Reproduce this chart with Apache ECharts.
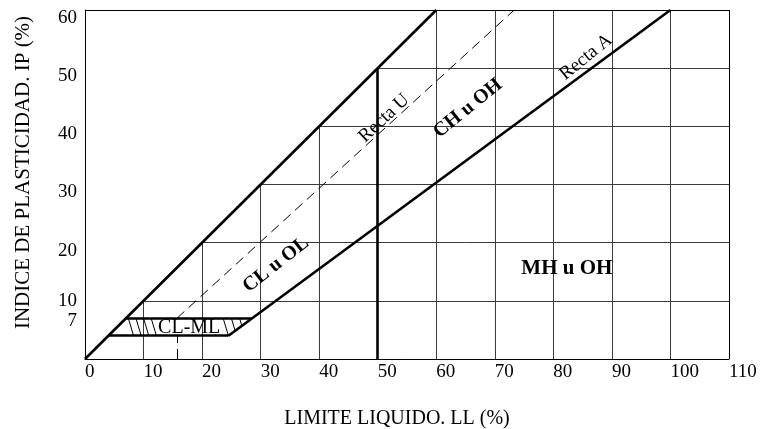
<!DOCTYPE html>
<html>
<head>
<meta charset="utf-8">
<script src="https://cdn.jsdelivr.net/npm/echarts@6/dist/echarts.min.js"></script>
<style>html,body{margin:0;padding:0;background:#fff}#c{width:762px;height:429px}</style>
</head>
<body>
<div id="c"></div>
<script>
// ---- data (chart units) ----
const xTitle = 'LIMITE LIQUIDO. LL (%)';
const yTitle = 'INDICE DE PLASTICIDAD. IP (%)';
const yTickLabels = [10, 20, 30, 40, 50, 60];
const yExtraTickLabels = [7];
const gridXs = [10, 20, 30, 40, 50, 60, 70, 80, 90, 100];
const gridYs = [10, 20, 30, 40, 50];
const upperLine = [[0, 0], [60, 60]];
const lineA = [[24.5, 4], [100, 60]];
const ll50Line = [[50, 0], [50, 50]];
const clmlBottom = [[4, 4], [24.5, 4]];
const clmlTop = [[7, 7], [28.5, 7]];
const uLineVert = [[15.7, 0], [15.7, 4]];
const uLineDiag = [[15.7, 7], [73.3, 60]];
const hatchTops = [7.4, 8.7, 10.0, 11.3, 23.6, 25.0, 26.4];
const hatchBottoms = [[8.3, 4], [9.6, 4], [10.9, 4], [12.2, 4], [24.5, 4], [25.65, 4.85], [26.79, 5.70]];
const labelTexts = ['CL u OL', 'CH u OH', 'Recta U', 'Recta A', 'MH u OH', 'CL-ML'];
const labelAnchors = [[32.6, 16.2], [65.4, 43.1], [51.1, 41.4], [85.6, 51.9], [82.3, 15.6], [17.8, 5.4]];

// ---- build ----
const FONT = "'Liberation Serif','Times New Roman',serif";
const gridSegs = [];
gridXs.forEach(x => gridSegs.push({coords: [[x, 0], [x, Math.min(x, 60)]]}));
gridYs.forEach(y => gridSegs.push({coords: [[y, y], [110, y]]}));
const borderSegs = [{coords: [[0, 60], [110, 60]]}, {coords: [[110, 0], [110, 60]]}];
const thickSegs = [upperLine, lineA, ll50Line, clmlBottom, clmlTop].map(c => ({coords: c}));
const dashSegs = [uLineVert, uLineDiag].map(c => ({coords: c}));
const hatchSegs = hatchTops.map((t, i) => ({coords: [[t, 7], hatchBottoms[i]]}));

const labelStyles = [
  {rotate: 38, fontSize: 20, fontWeight: 'bold'},
  {rotate: 39, fontSize: 20, fontWeight: 'bold'},
  {rotate: 43, fontSize: 19, fontWeight: 'normal'},
  {rotate: 39, fontSize: 19, fontWeight: 'normal'},
  {rotate: 0, fontSize: 21, fontWeight: 'bold'},
  {rotate: 0, fontSize: 20, fontWeight: 'normal'}
];

function segSeries(data, style, z) {
  return {type: 'lines', coordinateSystem: 'cartesian2d', data: data, silent: true, z: z,
          lineStyle: Object.assign({color: '#000', opacity: 1, curveness: 0}, style), symbol: 'none'};
}

const chart = echarts.init(document.getElementById('c'), null, {renderer: 'canvas'});
chart.setOption({
  animation: false,
  backgroundColor: '#fff',
  grid: {left: 85, right: 33, top: 10, bottom: 70, containLabel: false, outerBoundsMode: 'none'},
  xAxis: {
    type: 'value', min: 0, max: 110, interval: 10,
    name: xTitle, nameLocation: 'middle', nameGap: 50,
    nameTextStyle: {fontFamily: FONT, fontSize: 20, color: '#000', padding: [0, 20, 0, 0]},
    axisLine: {show: true, onZero: false, lineStyle: {color: '#000', width: 1}},
    axisTick: {show: false}, splitLine: {show: false},
    axisLabel: {fontFamily: FONT, fontSize: 19, color: '#000', align: 'left', margin: 4, showMaxLabel: true, showMinLabel: true}
  },
  yAxis: [{
    type: 'value', min: 0, max: 60, interval: 10, position: 'left',
    name: yTitle, nameLocation: 'middle', nameGap: 51, nameRotate: 90,
    nameTextStyle: {fontFamily: FONT, fontSize: 21, color: '#000', padding: [0, 0, 0, 24]},
    axisLine: {show: true, onZero: false, lineStyle: {color: '#000', width: 1}},
    axisTick: {show: false}, splitLine: {show: false},
    axisLabel: {
      customValues: yTickLabels, margin: 8, showMinLabel: true, showMaxLabel: true,
      formatter: v => (v === 10) ? '{a|' + v + '}' : '{b|' + v + '}',
      rich: {
        a: {fontFamily: FONT, fontSize: 19, color: '#000', padding: [1, 0, 0, 0]},
        b: {fontFamily: FONT, fontSize: 19, color: '#000', padding: [16, 0, 0, 0]}
      }
    }
  }, {
    type: 'value', min: 0, max: 60, interval: 10, position: 'left', offset: 0,
    axisLine: {show: false}, axisTick: {show: false}, splitLine: {show: false},
    axisLabel: {
      customValues: yExtraTickLabels, margin: 8, showMinLabel: true, showMaxLabel: true,
      formatter: v => '{c|' + v + '}',
      rich: {c: {fontFamily: FONT, fontSize: 19, color: '#000', padding: [6, 0, 0, 0]}}
    }
  }],
  series: [
    segSeries(gridSegs, {width: 1, color: '#3a3a3a'}, 1),
    segSeries(borderSegs, {width: 1}, 2),
    segSeries(hatchSegs, {width: 1}, 3),
    segSeries(dashSegs, {width: 1, type: [10, 6]}, 3),
    segSeries(thickSegs, {width: 2.6}, 4),
    {
      type: 'custom', coordinateSystem: 'cartesian2d', data: labelAnchors, silent: true, z: 5,
      encode: {x: 0, y: 1},
      renderItem: function (params, api) {
        const i = params.dataIndex;
        const p = api.coord([api.value(0), api.value(1)]);
        const s = labelStyles[i];
        return {
          type: 'text', x: p[0], y: p[1], rotation: s.rotate * Math.PI / 180,
          style: {text: labelTexts[i], fill: '#000', fontFamily: FONT, fontSize: s.fontSize,
                  fontWeight: s.fontWeight, align: 'center', verticalAlign: 'middle'}
        };
      }
    }
  ]
});
</script>
</body>
</html>
